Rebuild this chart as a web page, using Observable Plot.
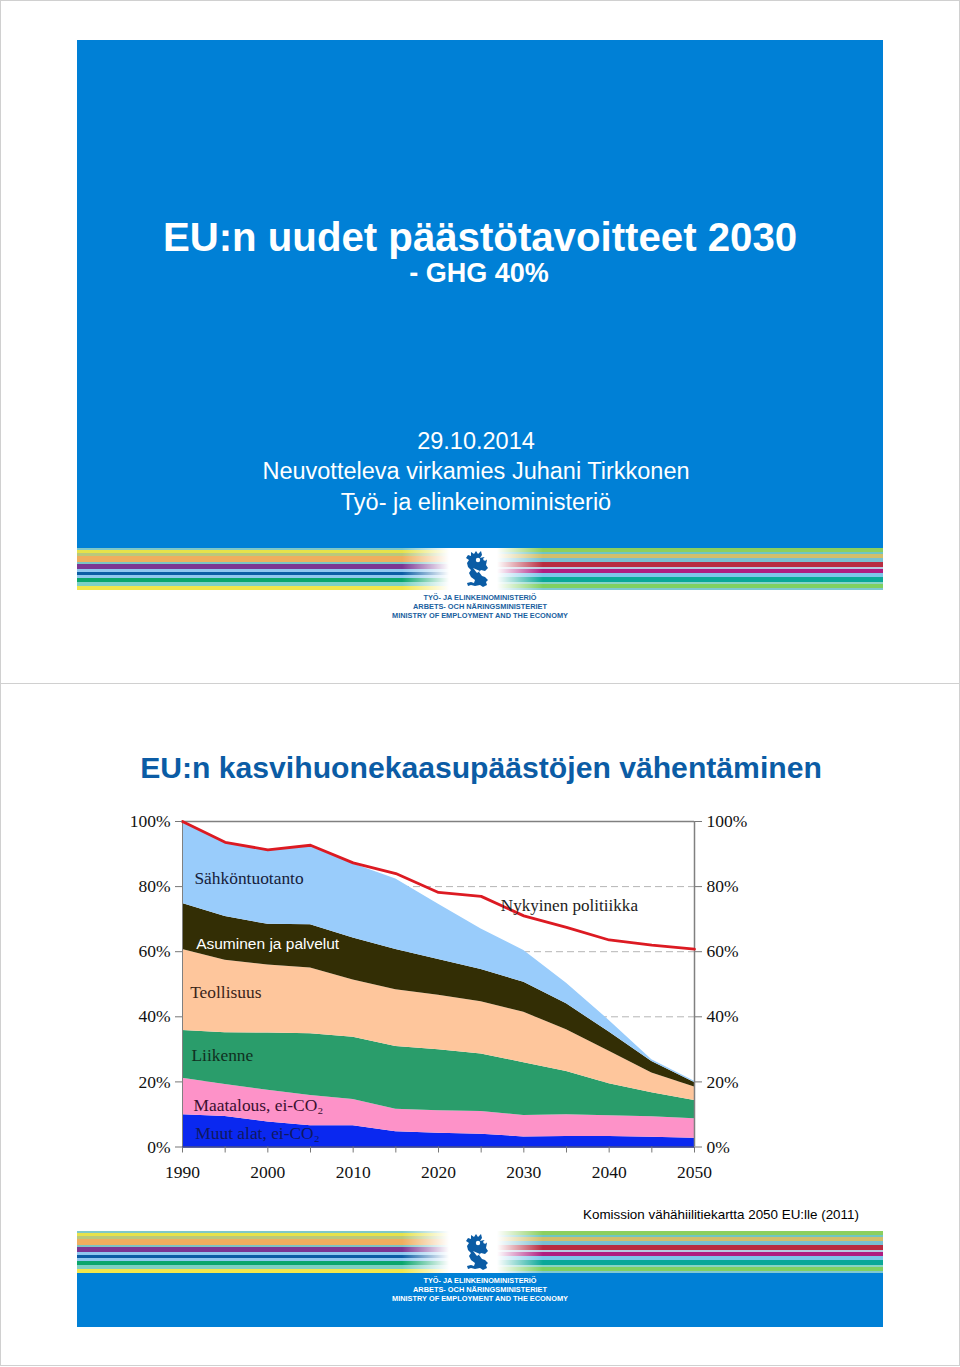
<!DOCTYPE html>
<html lang="fi">
<head>
<meta charset="utf-8">
<title>EU:n kasvihuonekaasupäästöjen vähentäminen</title>
<script src="https://cdn.jsdelivr.net/npm/d3@7"></script>
<script src="https://cdn.jsdelivr.net/npm/@observablehq/plot@0.6"></script>
<style>
html,body{margin:0;padding:0;background:#fff}
#page{position:relative;width:960px;height:1367px;overflow:hidden;font-family:"Liberation Sans",Arial,sans-serif;background:#fff}
.abs{position:absolute}
.frame{left:0;width:958px;border:1px solid #d0d0d0;box-sizing:content-box}
.blue{background:#0080d6;left:77px;width:806px}
.line{left:0;width:960px;text-align:center;white-space:nowrap}
.band{left:77px;width:806px;height:42px;display:flex}
.side{height:42px;flex:1;position:relative;display:flex;flex-direction:column}
.fade{position:absolute;left:0;top:0;width:806px;height:42px;background:linear-gradient(90deg,rgba(255,255,255,0) 0,rgba(255,255,255,0) 325px,#fff 372px,#fff 420px,rgba(255,255,255,0) 466px)}
.lion{position:absolute;left:388px;top:1px;width:28px;height:40px}
svg.logoText{position:absolute;left:0;width:960px;height:32px;overflow:visible}
#chart{position:absolute;left:0;top:800px;width:960px}
#chart svg{display:block;background:transparent}
</style>
</head>
<body>
<div id="page">
  <div class="abs frame" style="top:0;height:682px"></div>
  <div class="abs frame" style="top:683px;height:681px"></div>

  <div class="abs blue" style="top:40px;height:508px"></div>
  <div class="abs line" style="top:214px;font-size:40.2px;line-height:48px;font-weight:bold;color:#fff">EU:n uudet päästötavoitteet 2030</div>
  <div class="abs line" style="top:257px;left:-1px;font-size:27px;line-height:32px;font-weight:bold;color:#fff">- GHG 40%</div>
  <div class="abs line" style="top:426px;left:-4px;font-size:23.5px;line-height:30px;color:#fff">29.10.2014</div>
  <div class="abs line" style="top:456px;left:-4px;font-size:23.5px;line-height:30px;color:#fff">Neuvotteleva virkamies Juhani Tirkkonen</div>
  <div class="abs line" style="top:487px;left:-4px;font-size:23.5px;line-height:30px;color:#fff">Työ- ja elinkeinoministeriö</div>
  <div class="abs band" id="band1" style="top:548px"></div>
  <svg class="logoText" style="top:592px" viewBox="0 0 960 32"></svg>

  <div class="abs line" style="top:748px;left:1px;font-size:30.15px;line-height:40px;font-weight:bold;color:#0b5ca5">EU:n kasvihuonekaasupäästöjen vähentäminen</div>
  <div id="chart"></div>
  <div class="abs" style="left:583px;top:1207px;font-size:13.4px;line-height:16px;color:#000;white-space:nowrap">Komission vähähiilitiekartta 2050 EU:lle (2011)</div>

  <div class="abs blue" style="top:1272px;height:55px"></div>
  <div class="abs band" id="band2" style="top:1231px"></div>
  <svg class="logoText" style="top:1275px" viewBox="0 0 960 32"></svg>
</div>
<script>
// Years on the x axis
const years = [1990, 1995, 2000, 2005, 2010, 2015, 2020, 2025, 2030, 2035, 2040, 2045, 2050];
const labelledYears = [1990, 2000, 2010, 2020, 2030, 2040, 2050];
const percentTicks = [0, 20, 40, 60, 80, 100];
const dashedGrid = [20, 40, 60, 80];

// Upper edge of each stacked band, % of 1990 emissions
const muutAlat   = [9.9, 9.4, 7.7, 6.5, 6.5, 4.7, 4.2, 3.9, 3.1, 3.2, 3.2, 3.0, 2.7];
const maatalous  = [21.1, 19.2, 17.4, 15.8, 14.6, 11.6, 11.1, 10.9, 9.7, 9.9, 9.6, 9.3, 8.7];
const liikenne   = [35.8, 35.1, 35.0, 34.8, 33.7, 30.9, 29.9, 28.6, 25.9, 23.2, 19.4, 16.7, 14.3];
const teollisuus = [60.7, 57.4, 55.9, 55.0, 51.3, 48.3, 46.6, 44.6, 41.4, 36.0, 29.4, 22.7, 18.4];
const asuminen   = [74.8, 70.8, 68.4, 68.3, 64.2, 60.7, 57.6, 54.5, 50.6, 44.0, 35.3, 26.3, 19.8];
const sahko      = [100, 93.4, 91.0, 92.3, 87.0, 82.3, 74.6, 67.0, 60.4, 50.3, 38.9, 26.8, 20.2];
const nykyinen   = [100, 93.6, 91.3, 92.7, 87.3, 84.0, 78.2, 77.0, 71.0, 67.5, 63.6, 62.0, 60.8];

const seriesNames = ["Muut alat", "Maatalous", "Liikenne", "Teollisuus", "Asuminen", "Sähköntuotanto"];
const seriesTops = [muutAlat, maatalous, liikenne, teollisuus, asuminen, sahko];
const seriesColors = ["#0a28f0", "#fd92c8", "#2a9d6b", "#fec69c", "#332e05", "#99ccfb"];

const bands = seriesNames.flatMap((series, s) =>
  years.map((year, i) => ({
    series, year,
    low: s ? seriesTops[s - 1][i] : 0,
    high: seriesTops[s][i]
  })));
const policy = years.map((year, i) => ({year, value: nykyinen[i]}));

const serif = "'Liberation Serif','Times New Roman',serif";
const label = (text, x, y, options = {}) =>
  Plot.text([text], {
    x: () => x, y: () => y, text: d => d, textAnchor: "start",
    fontFamily: serif, fontSize: 17.4, fill: "#16203a", ...options
  });
const axisStyle = {fontSize: 17.5, fontFamily: serif, color: "#111", stroke: "#777", tickSize: 7, tickPadding: 5};

const chart = Plot.plot({
  width: 960, height: 400,
  marginLeft: 182, marginRight: 266, marginTop: 21, marginBottom: 53.5,
  style: {background: "transparent", fontFamily: serif},
  x: {domain: [1990, 2050], label: null},
  y: {domain: [0, 100], label: null},
  color: {domain: seriesNames, range: seriesColors},
  marks: [
    Plot.ruleY(dashedGrid, {stroke: "#b5b5b5", strokeDasharray: "7,4", strokeWidth: 1}),
    Plot.areaY(bands, {x: "year", y1: "low", y2: "high", z: "series", fill: "series"}),
    Plot.ruleY([100], {stroke: "#808080", strokeWidth: 1.5}),
    Plot.ruleX([1990], {stroke: "#808080", strokeWidth: 1}),
    Plot.ruleX([2050], {stroke: "#808080", strokeWidth: 1.5}),
    Plot.ruleY([0], {stroke: "#202a80", strokeWidth: 1.5}),
    Plot.lineY(policy, {x: "year", y: "value", stroke: "#dc1a22", strokeWidth: 2.8, curve: "linear"}),
    Plot.axisX({...axisStyle, ticks: years, tickSize: 6, tickPadding: 13,
      tickFormat: d => labelledYears.includes(d) ? String(d) : ""}),
    Plot.axisY({...axisStyle, anchor: "left", ticks: percentTicks, tickFormat: d => d + "%"}),
    Plot.axisY({...axisStyle, anchor: "right", ticks: percentTicks, tickFormat: d => d + "%"}),
    label("Sähköntuotanto", 1991.4, 82.4),
    label("Asuminen ja palvelut", 1991.6, 62.5, {fontFamily: "'Liberation Sans',Arial,sans-serif", fontSize: 15.5, fill: "#fff"}),
    label("Teollisuus", 1990.9, 47.5, {fill: "#3a2418"}),
    label("Liikenne", 1991.05, 28.1, {fill: "#10301f"}),
    label("Maatalous, ei-CO₂", 1991.3, 12.7, {fill: "#3a1030"}),
    label("Muut alat, ei-CO₂", 1991.5, 4.1, {fill: "#101860"}),
    label("Nykyinen politiikka", 2027.3, 74.2, {fill: "#222", fontSize: 17.1})
  ]
});
document.getElementById("chart").appendChild(chart);

// Slide decoration: colour stripes, crest and ministry name
const leftStripes = [["#7fc8c8",2],["#e6e24a",3],["#b9c97c",3],["#efae5e",6],["#7cc4c4",2],["#7b3593",5],["#8fc7ef",3],["#0b5ca5",3],["#8fc7ef",3],["#0aa66c",4],["#7ed0c4",4],["#f2e64a",4]];
const rightStripes = [["#8ccf5e",4],["#6fc6c4",2],["#d2be6a",4],["#79c0d0",4],["#b82c40",5],["#b8c8e0",2],["#b01c80",4],["#7cc6ea",4],["#0aa898",5],["#8ad4c4",2],["#80d060",4],["#80c8d0",2]];
const crest = "M6 3l3 2 2-3 2 3 3-3 1 4-2 3 4-1 3 3-1 5 2 3-3 3-4-1-2 2 3 4 3 1 3 3-2 2 1 3-4 2-3-2-5 1-4-1-3 1-1-3 4-1 3 1 1-3-4-3-2-4 2-3-3-3-1-4 2-3-3-2 2-3 3 1z";
for (const id of ["band1", "band2"]) {
  const band = document.getElementById(id);
  const stack = list => {
    const side = document.createElement("div");
    side.className = "side";
    for (const [color, h] of list) {
      const s = document.createElement("div");
      s.style.cssText = `height:${h}px;background:${color}`;
      side.appendChild(s);
    }
    return side;
  };
  band.appendChild(stack(leftStripes));
  band.appendChild(stack(rightStripes));
  const fade = document.createElement("div");
  fade.className = "fade";
  band.appendChild(fade);
  band.insertAdjacentHTML("beforeend",
    `<svg class="lion" viewBox="0 0 28 40"><path d="${crest}" fill="#0b5ca5"/><circle cx="13" cy="11" r="2.2" fill="#fff"/><circle cx="20" cy="10" r="1.8" fill="#fff"/><path d="M8 19l7 3-3 2z" fill="#fff"/></svg>`);
}
const orgLines = [
  ["TYÖ- JA ELINKEINOMINISTERIÖ", 113, 8],
  ["ARBETS- OCH NÄRINGSMINISTERIET", 134, 17],
  ["MINISTRY OF EMPLOYMENT AND THE ECONOMY", 176, 26]
];
document.querySelectorAll("svg.logoText").forEach((svg, k) => {
  svg.innerHTML = orgLines.map(([t, w, y]) =>
    `<text x="480" y="${y}" text-anchor="middle" textLength="${w}" lengthAdjust="spacingAndGlyphs" font-family="'Liberation Sans',Arial,sans-serif" font-weight="bold" font-size="7.5" fill="${k ? "#fff" : "#1a5fa0"}">${t}</text>`).join("");
});
</script>
</body>
</html>
